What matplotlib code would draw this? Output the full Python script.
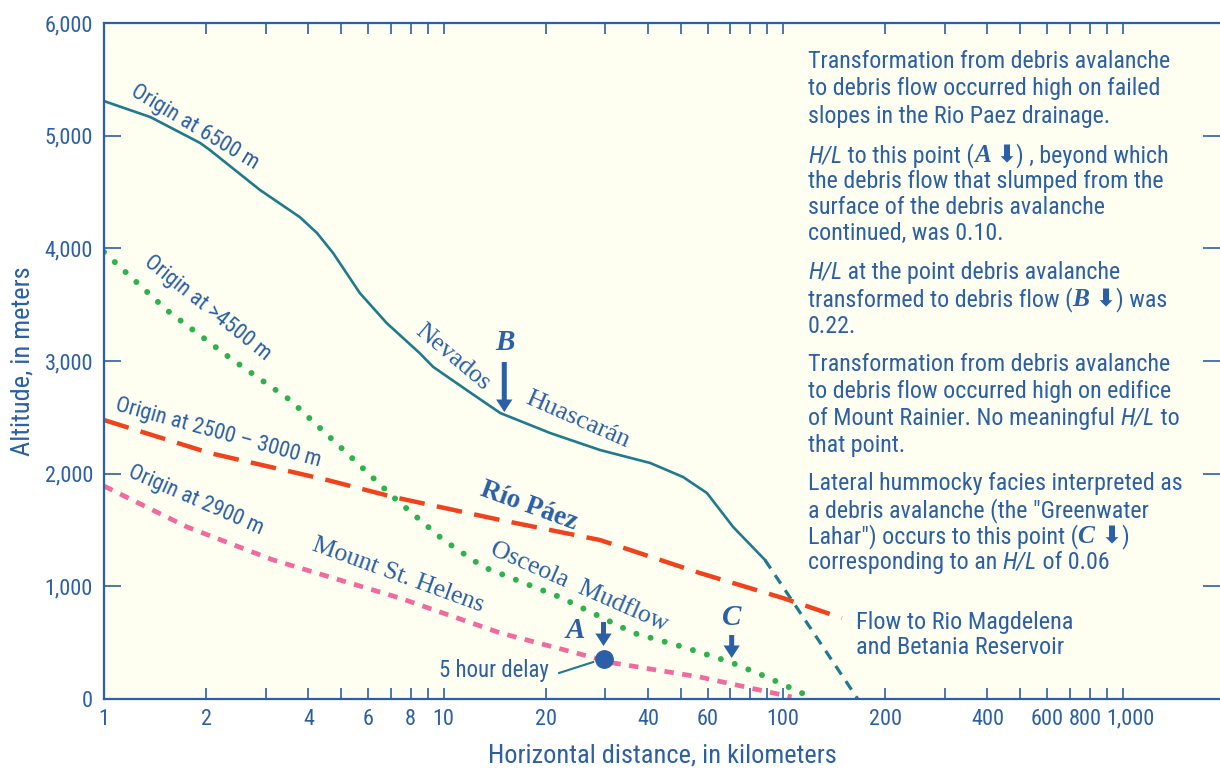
import matplotlib
matplotlib.use('Agg')
import matplotlib.pyplot as plt
from matplotlib import font_manager
from matplotlib.font_manager import FontProperties
from matplotlib.transforms import IdentityTransform, ScaledTranslation

# --- data (km, m) ---
huascaran_km = [1, 1.37, 1.92, 2.05, 2.88, 3.77, 4.24, 4.73, 5.67, 6.8, 8.5, 9.33,
                11.7, 14.7, 20.6, 28.9, 40.6, 50.8, 59.7, 71.3, 88.5]
huascaran_m = [5307, 5165, 4935, 4873, 4518, 4278, 4136, 3958, 3603, 3337, 3071, 2947,
               2742, 2538, 2361, 2210, 2095, 1970, 1828, 1527, 1234]
huascaran_ext_km = [88.5, 166]
huascaran_ext_m = [1234, 0]

osceola_km = [1, 1.53, 2.35, 3.53, 5.19, 7.11, 10, 13.1, 22.0, 36.3, 50.8, 69.9, 89.6, 122]
osceola_m = [3967, 3452, 3027, 2654, 2183, 1793, 1411, 1172, 905, 586, 462, 328, 195, 10]

helens_km = [1, 1.756, 3.15, 7.44, 14.7, 24.6, 31.6, 56.9, 106]
helens_m = [1890, 1527, 1234, 896, 586, 408, 320, 195, 18]

paez_km = [1, 2.05, 4.54, 7.11, 14.7, 28.9, 56.9, 100, 149]
paez_m = [2476, 2183, 1944, 1793, 1589, 1411, 1118, 896, 719]

point_a = (29.6, 355)
arrow_b = (15.1, 2547, 2991)   # x, tip, tail
arrow_a = (29.6, 470, 683)
arrow_c = (70.6, 364, 568)

x_ticks = [1, 2, 3, 4, 5, 6, 7, 8, 9, 10, 20, 30, 40, 50, 60, 70, 80, 90,
           100, 200, 300, 400, 500, 600, 700, 800, 900, 1000]
x_labels = {1: '1', 2: '2', 4: '4', 6: '6', 8: '8', 10: '10', 20: '20', 40: '40',
            60: '60', 100: '100', 200: '200', 400: '400', 600: '600', 800: '800',
            1000: '1,000'}
y_ticks = [0, 1000, 2000, 3000, 4000, 5000, 6000]
y_labels = ['0', '1,000', '2,000', '3,000', '4,000', '5,000', '6,000']

BLUE = '#2B5FA6'
TEAL = '#1F7A8C'
GREEN = '#2EB24D'
PINK = '#F06A9E'
RED = '#F0421C'
BG = '#FEFEF1'

names = {f.name for f in font_manager.fontManager.ttflist}
SANS = next((n for n in ['Liberation Sans Narrow', 'Roboto Condensed', 'DejaVu Sans']
             if n in names), 'DejaVu Sans')
SERIF = 'Liberation Serif'
plt.rcParams['font.family'] = [SANS, 'DejaVu Sans']

fig = plt.figure(figsize=(12.2, 7.71), dpi=100)
ax = fig.add_axes([104 / 1220, 1 - 699 / 771, 1 - 104 / 1220, (699 - 23) / 771])
ax.set_facecolor(BG)
ax.set_xscale('log')
ax.set_xlim(1, 1937)
ax.set_ylim(0, 6000)

# lines
ax.plot(huascaran_km, huascaran_m, color=TEAL, lw=1.9)
ax.plot(huascaran_ext_km, huascaran_ext_m, color=TEAL, lw=2.3, dashes=(3.2, 2.5))
ax.plot(paez_km, paez_m, color=RED, lw=3.2, dashes=(5.8, 2.8))
ax.plot(osceola_km, osceola_m, color=GREEN, lw=4.3, dashes=(0.01, 2.45),
        dash_capstyle='round')
ax.plot(helens_km, helens_m, color=PINK, lw=3.4, dashes=(2.0, 1.8))
ax.plot(*point_a, 'o', color=BLUE, ms=12.5)

# arrows
for x, tip, tail in [arrow_a, arrow_b, arrow_c]:
    ax.annotate('', xy=(x, tip), xytext=(x, tail),
                arrowprops=dict(arrowstyle='simple,head_width=0.65,head_length=0.5,tail_width=0.2',
                                color=BLUE, lw=0, shrinkA=0, shrinkB=0),
                fontsize=18)
serif_bi = dict(family=SERIF, style='italic', weight='bold', color=BLUE,
                ha='center', va='center', fontsize=21)
ax.text(24.4, 612, 'A', **serif_bi)
ax.text(15.2, 3160, 'B', **serif_bi)
ax.text(70.6, 719, 'C', **serif_bi)

ax.text(14.1, 257, '5 hour delay', color=BLUE, fontsize=16.4, ha='center', va='center')
ax.plot([21.9, 27.6], [231, 328], color=TEAL, lw=1.5)

# curve labels
lab = dict(color=BLUE, ha='center', va='center', rotation_mode='anchor')
ax.text(1.85, 5077, 'Origin at 6500 m', rotation=-31, fontsize=16, **lab)
ax.text(2.02, 3470, 'Origin at >4500 m', rotation=-38.5, fontsize=16, **lab)
ax.text(2.17, 2361, 'Origin at 2500 \u2013 3000 m', rotation=-15.4, fontsize=16, **lab)
ax.text(1.87, 1766, 'Origin at 2900 m', rotation=-23.6, fontsize=16, **lab)
ax.text(10.66, 3035, 'Nevados', rotation=-40, fontsize=18.5, family=SERIF, **lab)
ax.text(24.9, 2476, 'Huascar\u00e1n', rotation=-23.7, fontsize=19, family=SERIF, **lab)
ax.text(17.9, 1713, 'R\u00edo P\u00e1ez', rotation=-20, fontsize=19.5, family=SERIF,
        weight='bold', **lab)
ax.text(25.1, 994, 'Osceola  Mudflow', rotation=-23.7, fontsize=18.5, family=SERIF, **lab)
ax.text(7.35, 1100, 'Mount St. Helens', rotation=-20, fontsize=18.5, family=SERIF, **lab)
ax.text(163.6, 780, 'Flow to Rio Magdelena\nand Betania Reservoir', color=BLUE,
        fontsize=17.5, ha='left', va='top', linespacing=1.1)

# axes styling
for side in ['left', 'bottom', 'top']:
    ax.spines[side].set_color(BLUE)
    ax.spines[side].set_linewidth(1.6)
ax.spines['right'].set_visible(False)

ax.xaxis.set_minor_locator(matplotlib.ticker.NullLocator())
ax.set_xticks(x_ticks)
ax.set_xticklabels([x_labels.get(t, '') for t in x_ticks])
ax.set_yticks(y_ticks)
ax.set_yticklabels(y_labels)
ax.tick_params(axis='x', direction='in', length=8, width=1.2, color=BLUE,
               labelcolor=BLUE, labelsize=16, pad=7, top=True)
ax.tick_params(axis='y', direction='in', length=12, width=1.2, color=BLUE,
               labelcolor=BLUE, labelsize=16, pad=8, right=True)
ax.set_xlabel('Horizontal distance, in kilometers', color=BLUE, fontsize=19, labelpad=10)
ax.set_ylabel('Altitude, in meters', color=BLUE, fontsize=19, labelpad=7)

# right-hand notes, drawn in runs so italics can be mixed in
renderer = fig.canvas.get_renderer()
NOTE_SIZE = 17.3


def run_props(style):
    if style == 'i':
        return FontProperties(family=SANS, style='italic', size=NOTE_SIZE)
    if style == 'bi':
        return FontProperties(family=SERIF, style='italic', weight='bold', size=NOTE_SIZE + 1)
    if style == 'arr':
        return FontProperties(family='DejaVu Sans', weight='bold', size=NOTE_SIZE)
    return FontProperties(family=SANS, size=NOTE_SIZE)


def text_width(s, prop):
    w1 = renderer.get_text_width_height_descent('|' + s + '|', prop, ismath=False)[0]
    w0 = renderer.get_text_width_height_descent('||', prop, ismath=False)[0]
    return w1 - w0


def draw_line(x, y_top, runs):
    y = 771 - y_top
    for s, style in runs:
        prop = run_props(style)
        fig.text(x, y, s, transform=IdentityTransform(), fontproperties=prop,
                 color=BLUE, va='baseline', ha='left')
        x += text_width(s, prop)


notes = [
    (68, [('Transformation from debris avalanche', '')]),
    (95, [('to debris flow occurred high on failed', '')]),
    (123, [('slopes in the Rio Paez drainage.', '')]),
    (162, [('H/L', 'i'), (' to this point (', ''), ('A ', 'bi'), ('\u2B07', 'arr'),
           (') , beyond which', '')]),
    (188, [('the debris flow that slumped from the', '')]),
    (214, [('surface of the debris avalanche', '')]),
    (240, [('continued, was 0.10.', '')]),
    (279, [('H/L', 'i'), (' at the point debris avalanche', '')]),
    (306, [('transformed to debris flow (', ''), ('B ', 'bi'), ('\u2B07', 'arr'),
           (') was', '')]),
    (333, [('0.22.', '')]),
    (371, [('Transformation from debris avalanche', '')]),
    (398, [('to debris flow occurred high on edifice', '')]),
    (425, [('of Mount Rainier. No meaningful ', ''), ('H/L', 'i'), (' to', '')]),
    (452, [('that point.', '')]),
    (490, [('Lateral hummocky facies interpreted as', '')]),
    (517, [('a debris avalanche (the "Greenwater', '')]),
    (543, [('Lahar") occurs to this point (', ''), ('C ', 'bi'), ('\u2B07', 'arr'),
           (')', '')]),
    (569, [('corresponding to an ', ''), ('H/L', 'i'), (' of 0.06', '')]),
]
for y_top, runs in notes:
    draw_line(808, y_top, runs)

# nudge the crowded 800 / 1,000 labels apart a little
for t, lbl in zip(x_ticks, ax.get_xticklabels()):
    if t == 1000:
        lbl.set_transform(lbl.get_transform() + ScaledTranslation(6 / 72, 0, fig.dpi_scale_trans))
    if t == 800:
        lbl.set_transform(lbl.get_transform() + ScaledTranslation(-3 / 72, 0, fig.dpi_scale_trans))

fig.savefig('out.png', dpi=100, facecolor='white')
